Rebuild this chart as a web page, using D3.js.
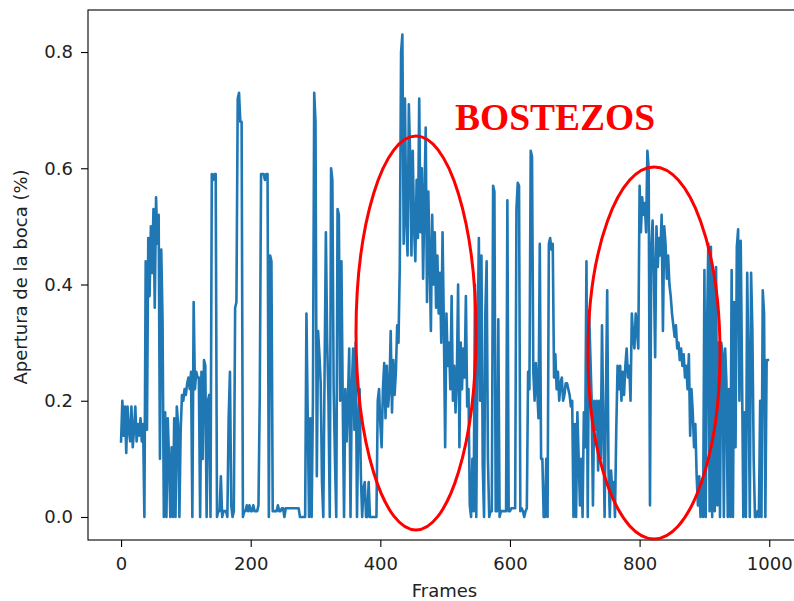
<!DOCTYPE html>
<html>
<head>
<meta charset="utf-8">
<script src="https://cdn.jsdelivr.net/npm/d3@7"></script>
<style>
  html, body { margin: 0; padding: 0; background: #fff; }
  svg { display: block; }
  .tick text { font-family: "DejaVu Sans", sans-serif; font-size: 18px; fill: #222; }
  .axis-label { font-family: "DejaVu Sans", sans-serif; font-size: 18px; fill: #222; }
</style>
</head>
<body>
<svg id="chart" width="794" height="601"></svg>
<script>
// Mouth-opening ratio sampled every other frame (frames 0..998)
const FRAME_STEP = 2;
const apertura = [
  0.13,0.20,0.14,0.19,0.11,0.19,0.15,0.13,0.19,0.12,
  0.15,0.19,0.13,0.16,0.14,0.17,0.13,0.16,0.00,0.44,
  0.15,0.48,0.38,0.50,0.42,0.53,0.36,0.55,0.47,0.52,
  0.10,0.46,0.34,0.00,0.18,0.00,0.17,0.10,0.00,0.12,
  0.00,0.17,0.00,0.19,0.16,0.00,0.15,0.21,0.20,0.22,
  0.21,0.23,0.24,0.22,0.25,0.00,0.37,0.22,0.25,0.24,
  0.24,0.00,0.25,0.10,0.27,0.26,0.00,0.20,0.21,0.00,
  0.59,0.58,0.59,0.59,0.00,0.01,0.01,0.07,0.00,0.01,
  0.01,0.01,0.00,0.17,0.25,0.02,0.00,0.01,0.36,0.37,
  0.72,0.73,0.68,0.68,0.00,0.01,0.01,0.02,0.01,0.02,
  0.01,0.01,0.02,0.01,0.01,0.01,0.02,0.21,0.59,0.59,
  0.59,0.58,0.59,0.59,0.00,0.45,0.44,0.01,0.01,0.01,
  0.01,0.02,0.01,0.01,0.015,0.015,0.00,0.015,0.015,0.015,
  0.015,0.015,0.015,0.015,0.015,0.015,0.015,0.015,0.00,0.00,
  0.00,0.00,0.00,0.35,0.17,0.00,0.17,0.00,0.20,0.73,
  0.68,0.07,0.32,0.28,0.23,0.06,0.00,0.25,0.49,0.30,
  0.20,0.00,0.60,0.58,0.22,0.10,0.00,0.53,0.52,0.20,
  0.44,0.20,0.00,0.22,0.13,0.20,0.29,0.00,0.22,0.29,
  0.15,0.30,0.00,0.16,0.22,0.07,0.00,0.05,0.06,0.00,
  0.00,0.06,0.00,0.00,0.00,0.00,0.00,0.00,0.20,0.22,
  0.16,0.12,0.22,0.265,0.17,0.26,0.19,0.22,0.32,0.18,
  0.27,0.21,0.25,0.33,0.30,0.43,0.80,0.83,0.47,0.72,
  0.51,0.45,0.71,0.62,0.45,0.63,0.50,0.44,0.58,0.48,
  0.72,0.49,0.60,0.41,0.55,0.67,0.37,0.56,0.45,0.32,
  0.52,0.40,0.49,0.36,0.45,0.35,0.42,0.30,0.49,0.33,
  0.12,0.35,0.26,0.30,0.22,0.38,0.20,0.26,0.18,0.24,
  0.40,0.12,0.30,0.22,0.29,0.24,0.38,0.19,0.22,0.02,
  0.00,0.10,0.01,0.40,0.00,0.30,0.48,0.20,0.45,0.09,
  0.00,0.35,0.44,0.10,0.00,0.01,0.01,0.57,0.56,0.01,
  0.01,0.34,0.00,0.01,0.01,0.01,0.01,0.01,0.545,0.01,
  0.01,0.015,0.015,0.015,0.015,0.53,0.575,0.57,0.01,0.015,
  0.01,0.00,0.01,0.015,0.25,0.22,0.63,0.62,0.25,0.20,
  0.265,0.22,0.17,0.47,0.10,0.10,0.00,0.00,0.10,0.00,
  0.47,0.48,0.46,0.47,0.24,0.28,0.22,0.25,0.20,0.23,
  0.24,0.20,0.21,0.23,0.23,0.22,0.21,0.19,0.20,0.00,
  0.16,0.00,0.18,0.10,0.02,0.10,0.00,0.18,0.12,0.44,
  0.00,0.355,0.28,0.20,0.02,0.20,0.15,0.20,0.08,0.20,
  0.10,0.33,0.16,0.00,0.20,0.39,0.08,0.00,0.08,0.04,
  0.06,0.00,0.15,0.26,0.22,0.26,0.20,0.25,0.21,0.26,
  0.29,0.24,0.26,0.20,0.35,0.31,0.29,0.35,0.32,0.29,
  0.57,0.49,0.55,0.52,0.54,0.49,0.63,0.60,0.02,0.46,
  0.51,0.42,0.275,0.50,0.43,0.48,0.45,0.52,0.32,0.50,
  0.47,0.41,0.45,0.40,0.38,0.35,0.33,0.31,0.33,0.29,
  0.30,0.27,0.29,0.26,0.28,0.24,0.26,0.22,0.28,0.14,
  0.22,0.18,0.12,0.16,0.07,0.02,0.07,0.00,0.06,0.00,
  0.425,0.00,0.32,0.47,0.01,0.465,0.00,0.42,0.01,0.43,
  0.02,0.30,0.00,0.30,0.28,0.00,0.29,0.23,0.00,0.22,
  0.00,0.425,0.00,0.37,0.12,0.465,0.495,0.20,0.475,0.25,
  0.00,0.18,0.00,0.42,0.25,0.00,0.42,0.32,0.10,0.00,
  0.00,0.01,0.00,0.20,0.00,0.39,0.35,0.00,0.27,0.27
];
const xTicks = [0, 200, 400, 600, 800, 1000];
const yTicks = [0.0, 0.2, 0.4, 0.6, 0.8];
const xTitle = "Frames";
const yTitle = "Apertura de la boca (%)";
const note = "BOSTEZOS";

const series = apertura.map((v, i) => ({ frame: i * FRAME_STEP, value: v }));

const svg = d3.select("#chart");
const plot = { left: 88, top: 10, right: 801, bottom: 540 };

const x = d3.scaleLinear().domain([-51, 1049]).range([plot.left, plot.right]);
const y = d3.scaleLinear().domain([-0.0396, 0.8723]).range([plot.bottom, plot.top]);

svg.append("defs").append("clipPath").attr("id", "plot-clip")
  .append("rect")
  .attr("x", plot.left).attr("y", plot.top)
  .attr("width", plot.right - plot.left).attr("height", plot.bottom - plot.top);

// series line
svg.append("path")
  .datum(series)
  .attr("clip-path", "url(#plot-clip)")
  .attr("fill", "none")
  .attr("stroke", "#1f77b4")
  .attr("stroke-width", 2.6)
  .attr("stroke-linejoin", "round")
  .attr("stroke-linecap", "square")
  .attr("d", d3.line().x(d => x(d.frame)).y(d => y(d.value)));

// frame of the axes
svg.append("rect")
  .attr("x", plot.left).attr("y", plot.top)
  .attr("width", plot.right - plot.left).attr("height", plot.bottom - plot.top)
  .attr("fill", "none").attr("stroke", "#000").attr("stroke-width", 1.1);

// axes
const xAxis = svg.append("g")
  .attr("transform", `translate(0,${plot.bottom})`)
  .call(d3.axisBottom(x).tickValues(xTicks).tickSize(7).tickPadding(10).tickFormat(d3.format("d")));
xAxis.select(".domain").remove();

const yAxis = svg.append("g")
  .attr("transform", `translate(${plot.left},0)`)
  .call(d3.axisLeft(y).tickValues(yTicks).tickSize(7).tickPadding(8).tickFormat(d3.format(".1f")));
yAxis.select(".domain").remove();

svg.selectAll(".tick line").attr("stroke", "#000").attr("stroke-width", 1.1);

// axis titles
svg.append("text").attr("class", "axis-label")
  .attr("x", (plot.left + plot.right) / 2).attr("y", 597)
  .attr("text-anchor", "middle").text(xTitle);

svg.append("text").attr("class", "axis-label")
  .attr("transform", `translate(27,${(plot.top + plot.bottom) / 2 + 2}) rotate(-90)`)
  .attr("text-anchor", "middle").text(yTitle);

// yawn annotations
svg.append("ellipse")
  .attr("cx", 416).attr("cy", 333).attr("rx", 60).attr("ry", 197)
  .attr("fill", "none").attr("stroke", "#ff0000").attr("stroke-width", 3);

svg.append("ellipse")
  .attr("cx", 654).attr("cy", 353).attr("rx", 66).attr("ry", 186)
  .attr("fill", "none").attr("stroke", "#ff0000").attr("stroke-width", 3);

svg.append("text")
  .attr("x", 455).attr("y", 130)
  .attr("font-family", "'Liberation Serif', 'Times New Roman', serif")
  .attr("font-weight", "bold")
  .attr("font-size", 37.5)
  .attr("fill", "#ff0000")
  .text(note);
</script>
</body>
</html>
